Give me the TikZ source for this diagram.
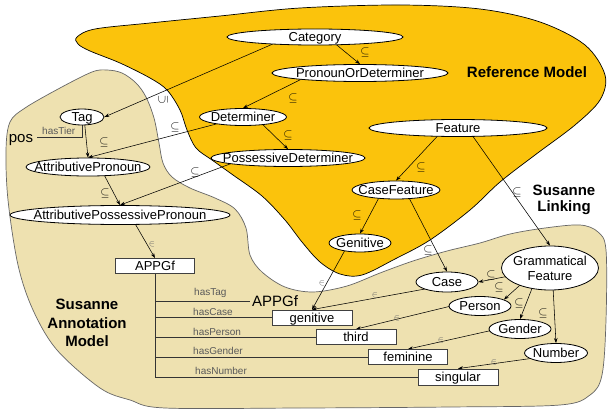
\documentclass[tikz,border=0pt]{standalone}
\usepackage{fontspec}
\setmainfont{Liberation Sans}
\usetikzlibrary{shapes.geometric,arrows.meta}
\definecolor{refor}{RGB}{251,195,12}
\definecolor{susbg}{RGB}{238,225,176}
\newcommand{\ctr}[1]{\makebox[0pt]{\raisebox{-0.36em}[0pt][0pt]{#1}}}
\pgfdeclarelayer{bg}
\pgfdeclarelayer{edges}
\pgfsetlayers{bg,edges,main}
\begin{document}
\begin{tikzpicture}[x=1pt,y=-1pt,
  cls/.style={ellipse, draw=black, fill=white, line width=0.8pt, inner sep=0pt, font=\fontsize{13}{15}\selectfont},
  inst/.style={rectangle, draw=black!75, fill=white, line width=0.8pt, inner sep=0pt, font=\fontsize{13}{15}\selectfont},
  sub/.style={font=\fontsize{12}{12}\selectfont, inner sep=0pt},
  mem/.style={font=\fontsize{9}{9}\selectfont, text=black!60, inner sep=0pt},
  rel/.style={font=\fontsize{10}{10}\selectfont, text=black!65, inner sep=0pt, anchor=west},
  arr/.style={-{Stealth[length=5pt,width=3.5pt]}, line width=0.55pt},
  tree/.style={line width=0.7pt, draw=black!80},
  title/.style={font=\bfseries\fontsize{15}{16}\selectfont, align=center, inner sep=0pt}
]
\useasboundingbox (0,0) rectangle (608,412);

% class nodes
\node[cls, minimum width=176pt, minimum height=16pt] (cat) at (315,37) {\ctr{Category}};
\node[cls, minimum width=176pt, minimum height=17pt] (pod) at (360,73) {\ctr{PronounOrDeterminer}};
\node[cls, minimum width=87pt, minimum height=17pt] (det) at (243,117) {\ctr{Determiner}};
\node[cls, minimum width=154pt, minimum height=17pt] (posdet) at (288,158) {\ctr{PossessiveDeterminer}};
\node[cls, minimum width=44pt, minimum height=16pt] (tag) at (82,117) {\ctr{Tag}};
\node[cls, minimum width=124pt, minimum height=18pt] (ap) at (88,167) {\ctr{AttributivePronoun}};
\node[cls, minimum width=220pt, minimum height=19pt] (app) at (120,215) {\ctr{AttributivePossessivePronoun}};
\node[cls, minimum width=178pt, minimum height=17pt] (feat) at (458,128) {\ctr{Feature}};
\node[cls, minimum width=88pt, minimum height=18pt] (cf) at (396,190) {\ctr{CaseFeature}};
\node[cls, minimum width=62pt, minimum height=18pt] (gen) at (360,243) {\ctr{Genitive}};
\node[cls, minimum width=62pt, minimum height=20pt] (case) at (447,282) {\ctr{Case}};
\node[cls, minimum width=62pt, minimum height=19pt] (person) at (480,306) {\ctr{Person}};
\node[cls, minimum width=62pt, minimum height=19pt] (gender) at (520,329) {\ctr{Gender}};
\node[cls, minimum width=63pt, minimum height=19pt] (number) at (556,353) {\ctr{Number}};
\node[cls, minimum width=97pt, minimum height=44pt] (gf) at (550,268)
  {\makebox[0pt]{\raisebox{-5pt}[0pt][0pt]{\begin{tabular}{@{}c@{}}Grammatical\\Feature\end{tabular}}}};

% instance boxes
\node[inst, minimum width=79pt, minimum height=15pt] (appgf) at (155,266) {\ctr{APPGf}};
\node[inst, minimum width=80pt, minimum height=15pt] (genbox) at (312,317.5) {\ctr{genitive}};
\node[inst, minimum width=80pt, minimum height=15pt] (third) at (356,337) {\ctr{third}};
\node[inst, minimum width=79pt, minimum height=15pt] (fem) at (408,357) {\ctr{feminine}};
\node[inst, minimum width=80pt, minimum height=16pt] (sing) at (458,377) {\ctr{singular}};

% texts
\node[font=\fontsize{15}{15}\selectfont, inner sep=0pt] (pos) at (21,140) {pos};
\node[rel] (htier) at (42,131) {hasTier};
\node[font=\fontsize{15}{15}\selectfont, inner sep=2pt, anchor=west] (apptxt) at (250,301) {APPGf};
\node[rel] (rtag) at (194,293) {hasTag};
\node[rel] (rcase) at (193,312) {hasCase};
\node[rel] (rperson) at (193,332) {hasPerson};
\node[rel] (rgender) at (193,351) {hasGender};
\node[rel] (rnumber) at (195,371) {hasNumber};
\node[title] (refm) at (527,72) {Reference Model};
\node[title] (slink) at (564,200) {Susanne\\Linking};
\node[title, font=\bfseries\fontsize{15}{18.5}\selectfont] (sam) at (87,323) {Susanne\\Annotation\\Model};

% subclass / membership labels
\node[sub] (l1) at (365,53) {$\subseteq$};
\node[sub, rotate=90] (l2) at (163,100) {$\subseteq$};
\node[sub] (l3) at (293,98) {$\subseteq$};
\node[sub] (l4) at (175,127) {$\subseteq$};
\node[sub] (l5) at (288,135) {$\subseteq$};
\node[sub] (l6) at (104,142) {$\subseteq$};
\node[sub] (l7) at (105,193) {$\subseteq$};
\node[sub] (l8) at (195,172) {$\subseteq$};
\node[sub] (l10) at (421,167) {$\subseteq$};
\node[sub] (l11) at (517,192) {$\subseteq$};
\node[sub] (l12) at (357,215) {$\subseteq$};
\node[sub] (l13) at (428,250) {$\subseteq$};
\node[sub] (l16) at (491,275) {$\subseteq$};
\node[sub] (l17) at (499,287) {$\subseteq$};
\node[sub] (l18) at (519,303) {$\subseteq$};
\node[sub] (l19) at (543,313) {$\subseteq$};
\node[mem] (m9) at (152,244) {$\in$};
\node[mem] (m14) at (322,283) {$\in$};
\node[mem] (m15) at (375,295) {$\in$};
\node[mem] (m20) at (397,318) {$\in$};
\node[mem] (m21) at (441,340) {$\in$};
\node[mem] (m22) at (494,362) {$\in$};

\begin{pgfonlayer}{bg}
\fill[white] (0,0) rectangle (608,412);
\draw[fill=susbg, draw=black!60, line width=0.7pt] plot[smooth cycle, tension=0.55] coordinates {
 (107,70) (122,73) (136,83) (146,97) (154,118) (159,143) (163,163) (172,177) (190,188)
 (215,198) (235,209) (246,228) (250,255) (262,272) (285,287) (313,292) (347,286)
 (380,273) (413,261) (447,251) (480,243) (510,234) (545,228) (580,225) (598,232)
 (606,250) (606,320) (602,375) (590,395) (560,405) (450,407) (300,408) (165,408)
 (130,400) (100,388) (57,350) (33,310) (18,265) (8,200) (6,150) (10,122) (25,108)
 (60,88) (92,72)};
\draw[fill=refor, draw=black, line width=0.7pt] plot[smooth cycle, tension=0.55] coordinates {
 (77,37) (95,29) (150,23) (220,16) (300,8) (400,5) (480,9) (540,22) (585,45) (605,75)
 (600,100) (575,125) (535,155) (500,182) (470,210) (430,240) (395,259) (362,275)
 (340,274) (320,262) (302,242) (285,220) (262,196) (233,175) (212,160) (196,148)
 (187,130) (180,110) (167,90) (150,78) (120,63) (90,51) (78,44)};
\end{pgfonlayer}

\begin{pgfonlayer}{edges}
\draw[arr] ([xshift=12pt]cat.center) -- (pod.north);
\draw[arr] ([xshift=-26pt]cat.center) -- (tag.east);
\draw[arr] ([xshift=-46pt]pod.center) -- (det.north);
\draw[arr] (det.center) -- (ap.north);
\draw[arr] ([xshift=12pt]det.center) -- (posdet.north);
\draw[arr] ([xshift=2pt]tag.center) -- (ap.north);
\draw[arr] ([xshift=12pt]ap.center) -- (app.north);
\draw[arr] ([xshift=-42pt]posdet.center) -- (app.north);
\draw[arr] ([xshift=10pt]app.center) -- (appgf.north);
\draw[arr] ([xshift=-13pt]feat.center) -- (cf.north);
\draw[arr] ([xshift=9pt]feat.center) -- (gf.north);
\draw[arr] ([xshift=-13pt]cf.center) -- (gen.north);
\draw[arr] ([xshift=9pt]cf.center) -- (case.north);
\draw[arr] ([xshift=-11pt]gen.center) -- (genbox.north);
\draw[arr] ([yshift=-3pt]case.center) -- (genbox.north);
\draw[arr] (gf.center) -- (case.east);
\draw[arr] ([xshift=-11pt]gf.center) -- (person.15);
\draw[arr] ([xshift=-10pt]gf.center) -- (gender.north);
\draw[arr] ([xshift=2pt]gf.center) -- (number.north);
\draw[arr] ([yshift=7pt]person.center) -- (third.north);
\draw[arr] ([yshift=5pt]gender.center) -- (fem.north);
\draw[arr] ([yshift=-2pt]number.center) -- (sing.north);
% annotation tree
\draw[tree] (tag.south) |- ([xshift=4pt,yshift=3pt]pos.east);
\draw[tree] (appgf.south) |- (sing.west);
\draw[tree] (appgf.south |- apptxt.west) -- (apptxt.west);
\draw[tree] (appgf.south |- genbox.west) -- (genbox.west);
\draw[tree] (appgf.south |- third.west) -- (third.west);
\draw[tree] (appgf.south |- fem.west) -- (fem.west);
\end{pgfonlayer}
\end{tikzpicture}
\end{document}
